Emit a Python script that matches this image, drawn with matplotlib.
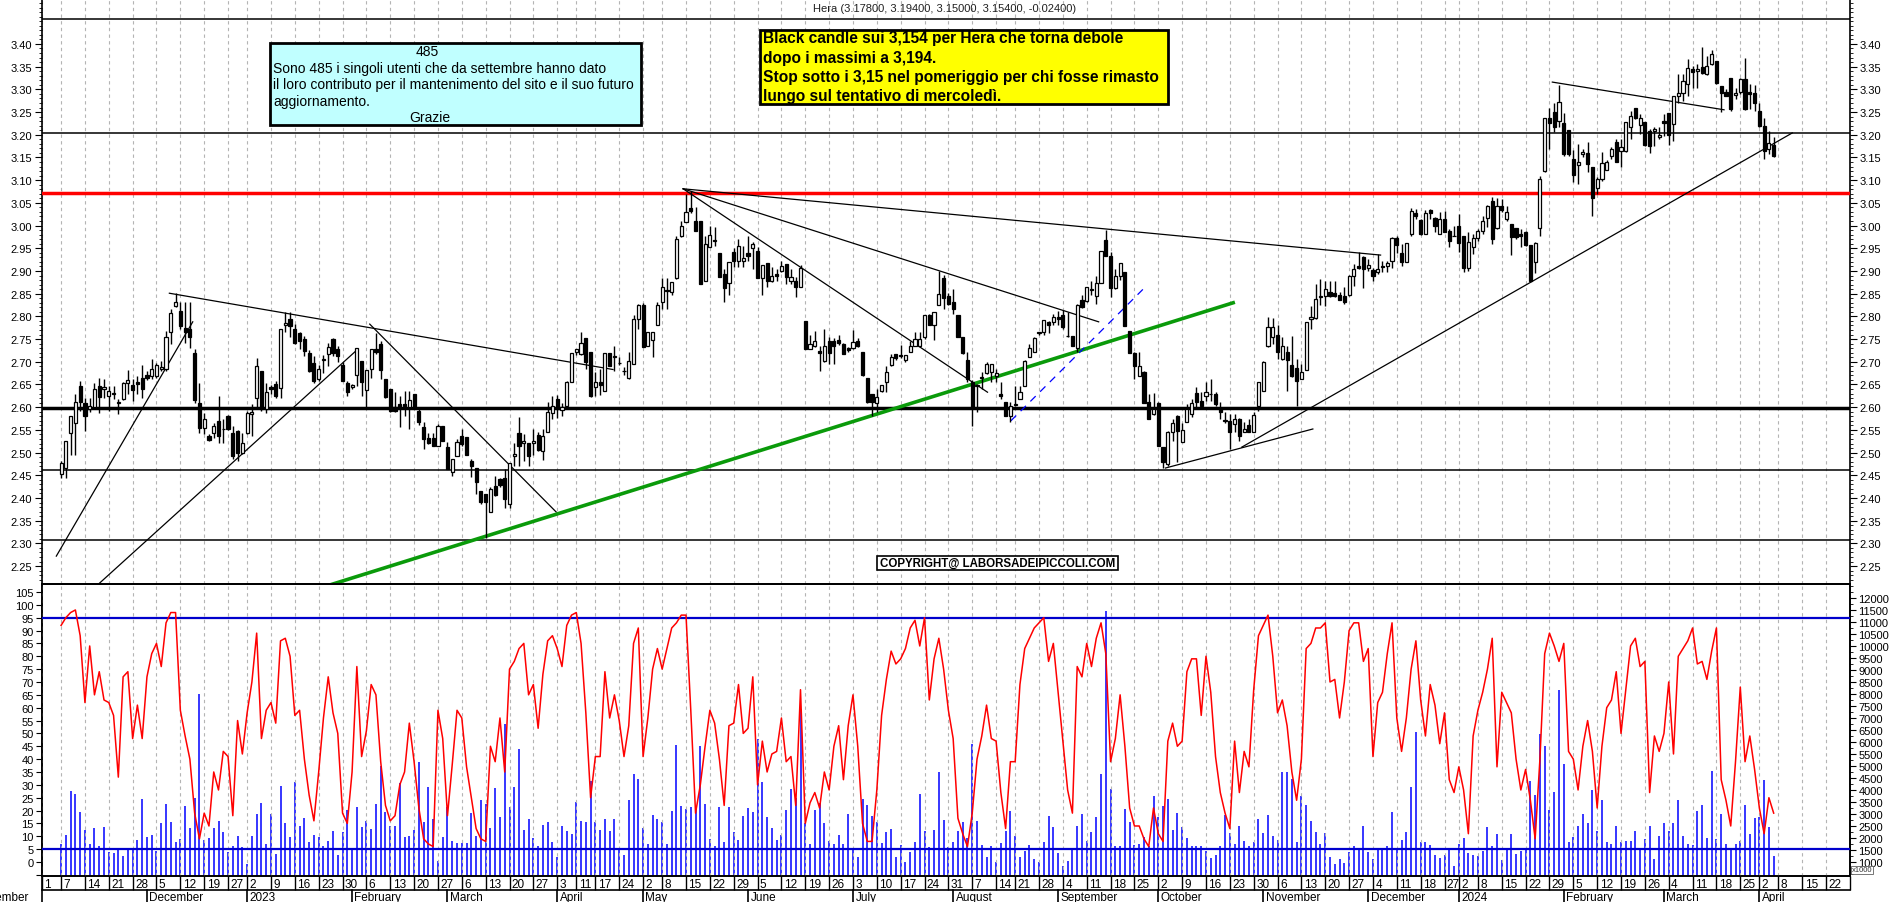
import numpy as np
import pandas as pd
import matplotlib
matplotlib.use("Agg")
import matplotlib.pyplot as plt
from matplotlib.patches import Rectangle
from matplotlib.lines import Line2D
from matplotlib.ticker import MultipleLocator, FixedLocator
from matplotlib.transforms import blended_transform_factory

plt.rcParams['font.family'] = ['Liberation Sans', 'DejaVu Sans']

W, H = 1890, 903

# Calendario di borsa (Borsa Italiana)
first_day = "2022-11-07"
holidays = ["2022-12-26", "2023-04-07", "2023-04-10", "2023-05-01", "2023-08-15",
            "2023-12-25", "2023-12-26", "2024-01-01", "2024-03-29", "2024-04-01"]
month_names = ["", "", "February", "March", "April", "May", "June", "July",
               "August", "September", "October", "November", "December"]

# Hera - candele giornaliere
opens = [
    2.452, 2.465, 2.544, 2.565, 2.646, 2.610, 2.596, 2.600, 2.647, 2.640,
    2.625, 2.632, 2.610, 2.618, 2.654, 2.649, 2.655, 2.665, 2.671, 2.669,
    2.669, 2.684, 2.684, 2.765, 2.823, 2.812, 2.775, 2.773, 2.719, 2.609,
    2.555, 2.537, 2.544, 2.570, 2.553, 2.581, 2.543, 2.548, 2.499, 2.543,
    2.585, 2.620, 2.679, 2.596, 2.645, 2.651, 2.643, 2.781, 2.795, 2.772,
    2.764, 2.750, 2.720, 2.697, 2.662, 2.704, 2.717, 2.751, 2.728, 2.693,
    2.654, 2.645, 2.670, 2.702, 2.637, 2.684, 2.728, 2.739, 2.662, 2.640,
    2.600, 2.607, 2.608, 2.600, 2.629, 2.592, 2.556, 2.533, 2.533, 2.515,
    2.558, 2.512, 2.457, 2.492, 2.536, 2.534, 2.482, 2.467, 2.415, 2.409,
    2.370, 2.427, 2.441, 2.443, 2.387, 2.492, 2.543, 2.521, 2.521, 2.522,
    2.539, 2.504, 2.545, 2.587, 2.617, 2.594, 2.603, 2.656, 2.722, 2.717,
    2.752, 2.722, 2.644, 2.656, 2.636, 2.719, 2.710, 2.698, 2.680, 2.664,
    2.695, 2.794, 2.824, 2.735, 2.747, 2.781, 2.831, 2.858, 2.853, 2.884,
    2.976, 3.007, 3.038, 3.011, 3.009, 2.879, 2.952, 2.966, 2.940, 2.893,
    2.873, 2.941, 2.921, 2.923, 2.940, 2.950, 2.943, 2.884, 2.918, 2.879,
    2.893, 2.901, 2.915, 2.879, 2.879, 2.864, 2.789, 2.729, 2.734, 2.724,
    2.702, 2.746, 2.746, 2.749, 2.739, 2.730, 2.730, 2.746, 2.721, 2.664,
    2.629, 2.609, 2.636, 2.655, 2.693, 2.717, 2.716, 2.705, 2.722, 2.735,
    2.735, 2.754, 2.802, 2.780, 2.824, 2.884, 2.844, 2.831, 2.803, 2.754,
    2.705, 2.655, 2.646, 2.664, 2.675, 2.677, 2.669, 2.629, 2.611, 2.581,
    2.604, 2.617, 2.647, 2.710, 2.721, 2.764, 2.766, 2.788, 2.788, 2.798,
    2.802, 2.757, 2.757, 2.730, 2.835, 2.834, 2.858, 2.844, 2.874, 2.969,
    2.932, 2.862, 2.888, 2.898, 2.768, 2.719, 2.668, 2.678, 2.612, 2.585,
    2.609, 2.512, 2.475, 2.546, 2.580, 2.524, 2.567, 2.585, 2.631, 2.614,
    2.625, 2.628, 2.629, 2.597, 2.570, 2.570, 2.563, 2.575, 2.545, 2.561,
    2.545, 2.603, 2.636, 2.735, 2.754, 2.758, 2.706, 2.722, 2.693, 2.686,
    2.663, 2.683, 2.795, 2.796, 2.843, 2.844, 2.853, 2.851, 2.847, 2.845,
    2.847, 2.888, 2.910, 2.930, 2.906, 2.903, 2.898, 2.912, 2.910, 2.923,
    2.972, 2.940, 2.919, 2.981, 3.027, 3.012, 2.981, 3.034, 3.016, 2.981,
    3.014, 2.989, 2.978, 2.998, 2.978, 2.906, 2.952, 2.972, 2.987, 3.016,
    3.055, 2.994, 3.044, 3.014, 3.003, 2.994, 2.981, 2.986, 2.957, 2.919,
    2.994, 3.121, 3.238, 3.251, 3.231, 3.226, 3.210, 3.147, 3.133, 3.157,
    3.160, 3.128, 3.082, 3.103, 3.123, 3.154, 3.185, 3.165, 3.165, 3.216,
    3.258, 3.221, 3.229, 3.209, 3.209, 3.194, 3.231, 3.248, 3.224, 3.285,
    3.293, 3.312, 3.345, 3.341, 3.350, 3.334, 3.356, 3.362, 3.307, 3.295,
    3.326, 3.288, 3.295, 3.323, 3.295, 3.292, 3.253, 3.220, 3.169, 3.178,
]
highs = [
    2.482, 2.526, 2.581, 2.629, 2.658, 2.621, 2.620, 2.654, 2.664, 2.662,
    2.647, 2.647, 2.618, 2.656, 2.682, 2.662, 2.669, 2.693, 2.680, 2.706,
    2.698, 2.701, 2.768, 2.817, 2.851, 2.832, 2.832, 2.831, 2.728, 2.654,
    2.588, 2.541, 2.566, 2.625, 2.573, 2.582, 2.559, 2.549, 2.544, 2.592,
    2.607, 2.709, 2.680, 2.654, 2.648, 2.658, 2.773, 2.810, 2.810, 2.783,
    2.766, 2.757, 2.727, 2.713, 2.694, 2.715, 2.742, 2.752, 2.735, 2.699,
    2.658, 2.650, 2.730, 2.702, 2.681, 2.728, 2.763, 2.746, 2.662, 2.640,
    2.633, 2.625, 2.636, 2.636, 2.630, 2.596, 2.567, 2.544, 2.544, 2.563,
    2.558, 2.523, 2.486, 2.531, 2.552, 2.534, 2.486, 2.467, 2.416, 2.409,
    2.424, 2.449, 2.445, 2.464, 2.478, 2.522, 2.578, 2.541, 2.522, 2.552,
    2.546, 2.552, 2.611, 2.625, 2.626, 2.609, 2.658, 2.719, 2.729, 2.765,
    2.752, 2.722, 2.678, 2.684, 2.719, 2.719, 2.735, 2.710, 2.688, 2.721,
    2.803, 2.827, 2.830, 2.766, 2.765, 2.831, 2.884, 2.884, 2.875, 2.976,
    3.009, 3.070, 3.077, 3.040, 3.009, 2.978, 2.999, 2.996, 2.940, 2.904,
    2.919, 2.950, 2.970, 2.956, 2.978, 2.963, 2.952, 2.913, 2.918, 2.908,
    2.905, 2.921, 2.915, 2.904, 2.886, 2.913, 2.789, 2.758, 2.768, 2.735,
    2.772, 2.754, 2.752, 2.758, 2.741, 2.732, 2.771, 2.752, 2.721, 2.664,
    2.629, 2.640, 2.649, 2.691, 2.717, 2.717, 2.737, 2.715, 2.746, 2.765,
    2.765, 2.803, 2.805, 2.809, 2.901, 2.891, 2.851, 2.860, 2.803, 2.754,
    2.721, 2.659, 2.650, 2.677, 2.700, 2.695, 2.684, 2.655, 2.612, 2.611,
    2.646, 2.647, 2.705, 2.739, 2.754, 2.766, 2.793, 2.790, 2.806, 2.812,
    2.813, 2.809, 2.757, 2.827, 2.847, 2.864, 2.879, 2.890, 2.944, 2.991,
    2.941, 2.904, 2.918, 2.898, 2.768, 2.721, 2.721, 2.680, 2.629, 2.631,
    2.612, 2.512, 2.548, 2.574, 2.583, 2.566, 2.607, 2.618, 2.644, 2.633,
    2.655, 2.661, 2.633, 2.611, 2.589, 2.585, 2.585, 2.577, 2.567, 2.574,
    2.590, 2.656, 2.702, 2.798, 2.796, 2.780, 2.754, 2.735, 2.756, 2.706,
    2.695, 2.787, 2.823, 2.871, 2.882, 2.879, 2.879, 2.879, 2.854, 2.864,
    2.891, 2.915, 2.941, 2.934, 2.926, 2.906, 2.937, 2.923, 2.923, 2.974,
    2.978, 2.959, 2.962, 3.038, 3.036, 3.014, 3.034, 3.036, 3.018, 3.029,
    3.033, 2.992, 2.999, 3.025, 2.978, 2.985, 2.981, 2.992, 3.022, 3.045,
    3.062, 3.060, 3.058, 3.044, 3.003, 2.994, 2.992, 2.989, 2.957, 2.963,
    3.110, 3.238, 3.260, 3.271, 3.310, 3.249, 3.210, 3.167, 3.180, 3.168,
    3.183, 3.128, 3.106, 3.161, 3.145, 3.172, 3.191, 3.191, 3.229, 3.253,
    3.260, 3.245, 3.229, 3.213, 3.216, 3.216, 3.246, 3.248, 3.285, 3.334,
    3.334, 3.367, 3.352, 3.356, 3.393, 3.374, 3.387, 3.362, 3.307, 3.301,
    3.326, 3.304, 3.326, 3.370, 3.312, 3.310, 3.271, 3.238, 3.209, 3.194,
]
lows = [
    2.445, 2.445, 2.494, 2.494, 2.592, 2.548, 2.590, 2.598, 2.588, 2.620,
    2.592, 2.618, 2.585, 2.616, 2.629, 2.614, 2.629, 2.621, 2.660, 2.662,
    2.665, 2.680, 2.680, 2.739, 2.820, 2.772, 2.741, 2.731, 2.610, 2.544,
    2.540, 2.526, 2.533, 2.522, 2.522, 2.550, 2.486, 2.482, 2.496, 2.541,
    2.537, 2.599, 2.592, 2.588, 2.629, 2.621, 2.621, 2.765, 2.754, 2.740,
    2.728, 2.713, 2.678, 2.654, 2.658, 2.676, 2.691, 2.713, 2.700, 2.658,
    2.625, 2.640, 2.647, 2.624, 2.600, 2.664, 2.718, 2.661, 2.620, 2.590,
    2.590, 2.556, 2.581, 2.553, 2.596, 2.561, 2.509, 2.519, 2.514, 2.515,
    2.526, 2.464, 2.449, 2.492, 2.515, 2.495, 2.446, 2.409, 2.387, 2.311,
    2.370, 2.405, 2.424, 2.379, 2.379, 2.470, 2.471, 2.482, 2.470, 2.495,
    2.504, 2.484, 2.545, 2.574, 2.576, 2.581, 2.602, 2.655, 2.714, 2.714,
    2.684, 2.622, 2.625, 2.627, 2.636, 2.691, 2.680, 2.692, 2.670, 2.661,
    2.695, 2.772, 2.732, 2.734, 2.710, 2.780, 2.816, 2.816, 2.846, 2.882,
    2.974, 3.007, 3.028, 2.987, 2.871, 2.879, 2.952, 2.954, 2.886, 2.831,
    2.846, 2.908, 2.908, 2.908, 2.923, 2.904, 2.884, 2.846, 2.864, 2.875,
    2.877, 2.897, 2.871, 2.871, 2.842, 2.864, 2.728, 2.728, 2.732, 2.680,
    2.700, 2.695, 2.695, 2.736, 2.717, 2.721, 2.728, 2.732, 2.668, 2.609,
    2.581, 2.589, 2.633, 2.634, 2.691, 2.705, 2.708, 2.699, 2.721, 2.735,
    2.732, 2.750, 2.780, 2.747, 2.824, 2.816, 2.824, 2.805, 2.754, 2.717,
    2.656, 2.559, 2.590, 2.640, 2.673, 2.655, 2.655, 2.617, 2.580, 2.568,
    2.603, 2.617, 2.646, 2.710, 2.721, 2.759, 2.759, 2.763, 2.781, 2.780,
    2.772, 2.755, 2.734, 2.722, 2.818, 2.832, 2.846, 2.827, 2.874, 2.932,
    2.842, 2.860, 2.881, 2.778, 2.719, 2.661, 2.668, 2.609, 2.574, 2.583,
    2.514, 2.465, 2.471, 2.526, 2.480, 2.524, 2.567, 2.578, 2.600, 2.596,
    2.614, 2.614, 2.603, 2.575, 2.565, 2.508, 2.545, 2.526, 2.545, 2.545,
    2.545, 2.592, 2.636, 2.732, 2.739, 2.706, 2.705, 2.636, 2.666, 2.602,
    2.662, 2.683, 2.772, 2.795, 2.825, 2.822, 2.842, 2.842, 2.835, 2.827,
    2.844, 2.868, 2.905, 2.862, 2.901, 2.879, 2.893, 2.897, 2.897, 2.906,
    2.940, 2.912, 2.919, 2.976, 3.014, 2.979, 2.981, 3.014, 2.985, 2.981,
    2.985, 2.952, 2.976, 2.941, 2.897, 2.901, 2.937, 2.965, 2.981, 2.996,
    2.959, 2.992, 3.029, 3.011, 2.935, 2.970, 2.952, 2.956, 2.876, 2.895,
    2.976, 3.119, 3.169, 3.205, 3.218, 3.154, 3.154, 3.097, 3.091, 3.150,
    3.119, 3.022, 3.069, 3.099, 3.123, 3.147, 3.139, 3.128, 3.161, 3.191,
    3.235, 3.202, 3.176, 3.160, 3.176, 3.191, 3.198, 3.177, 3.187, 3.271,
    3.275, 3.285, 3.304, 3.304, 3.334, 3.332, 3.354, 3.312, 3.251, 3.285,
    3.253, 3.279, 3.290, 3.255, 3.257, 3.253, 3.218, 3.147, 3.158, 3.150,
]
closes = [
    2.478, 2.526, 2.581, 2.612, 2.612, 2.581, 2.602, 2.640, 2.623, 2.644,
    2.635, 2.630, 2.611, 2.654, 2.660, 2.638, 2.652, 2.641, 2.665, 2.684,
    2.693, 2.689, 2.754, 2.807, 2.832, 2.779, 2.766, 2.754, 2.616, 2.555,
    2.574, 2.528, 2.558, 2.537, 2.552, 2.553, 2.493, 2.500, 2.522, 2.588,
    2.590, 2.691, 2.597, 2.634, 2.641, 2.625, 2.773, 2.785, 2.778, 2.741,
    2.746, 2.724, 2.680, 2.658, 2.685, 2.705, 2.732, 2.719, 2.713, 2.658,
    2.634, 2.648, 2.730, 2.655, 2.681, 2.728, 2.721, 2.683, 2.622, 2.591,
    2.591, 2.600, 2.603, 2.616, 2.600, 2.567, 2.530, 2.521, 2.515, 2.559,
    2.526, 2.464, 2.486, 2.524, 2.519, 2.495, 2.470, 2.435, 2.391, 2.391,
    2.420, 2.407, 2.429, 2.398, 2.476, 2.497, 2.515, 2.525, 2.493, 2.525,
    2.506, 2.537, 2.589, 2.603, 2.596, 2.600, 2.655, 2.719, 2.729, 2.741,
    2.699, 2.625, 2.655, 2.649, 2.719, 2.691, 2.712, 2.697, 2.679, 2.702,
    2.794, 2.826, 2.732, 2.766, 2.765, 2.824, 2.864, 2.857, 2.875, 2.970,
    2.998, 3.029, 3.031, 2.987, 2.871, 2.959, 2.979, 2.967, 2.886, 2.862,
    2.919, 2.921, 2.954, 2.928, 2.932, 2.959, 2.884, 2.913, 2.879, 2.888,
    2.888, 2.912, 2.886, 2.886, 2.864, 2.906, 2.728, 2.739, 2.746, 2.719,
    2.734, 2.719, 2.734, 2.741, 2.717, 2.726, 2.744, 2.734, 2.670, 2.611,
    2.611, 2.622, 2.649, 2.678, 2.710, 2.708, 2.712, 2.715, 2.735, 2.751,
    2.750, 2.802, 2.780, 2.809, 2.849, 2.840, 2.827, 2.816, 2.754, 2.719,
    2.661, 2.600, 2.648, 2.667, 2.695, 2.695, 2.675, 2.625, 2.581, 2.603,
    2.607, 2.634, 2.702, 2.730, 2.752, 2.765, 2.793, 2.781, 2.798, 2.794,
    2.776, 2.756, 2.734, 2.824, 2.820, 2.864, 2.861, 2.874, 2.943, 2.932,
    2.862, 2.888, 2.918, 2.778, 2.719, 2.690, 2.691, 2.609, 2.574, 2.595,
    2.514, 2.479, 2.546, 2.565, 2.548, 2.550, 2.596, 2.609, 2.611, 2.603,
    2.634, 2.630, 2.607, 2.590, 2.571, 2.546, 2.574, 2.536, 2.552, 2.545,
    2.583, 2.656, 2.699, 2.776, 2.776, 2.722, 2.735, 2.705, 2.668, 2.658,
    2.677, 2.787, 2.798, 2.838, 2.845, 2.860, 2.844, 2.845, 2.837, 2.832,
    2.888, 2.904, 2.906, 2.904, 2.913, 2.888, 2.904, 2.908, 2.918, 2.972,
    2.957, 2.919, 2.961, 3.033, 3.020, 2.981, 3.027, 3.028, 2.998, 3.014,
    2.986, 2.967, 2.977, 2.962, 2.906, 2.963, 2.972, 2.987, 3.009, 3.044,
    2.970, 3.044, 3.035, 3.030, 2.974, 2.974, 2.978, 2.957, 2.879, 2.961,
    3.102, 3.238, 3.227, 3.216, 3.273, 3.158, 3.158, 3.111, 3.141, 3.161,
    3.136, 3.060, 3.103, 3.138, 3.141, 3.169, 3.141, 3.172, 3.229, 3.242,
    3.236, 3.236, 3.177, 3.176, 3.213, 3.199, 3.226, 3.199, 3.285, 3.293,
    3.319, 3.348, 3.339, 3.344, 3.337, 3.351, 3.378, 3.314, 3.292, 3.286,
    3.257, 3.292, 3.323, 3.257, 3.290, 3.270, 3.220, 3.165, 3.182, 3.154,
]

# Oscillatore (linea rossa, scala sinistra)
oscillator = [
    92, 95, 97, 98, 88, 62, 84, 65, 74, 63,
    62, 57, 33, 72, 74, 48, 61, 48, 72, 81,
    85, 76, 93, 97, 97, 59, 49, 40, 19, 9,
    19, 14, 35, 28, 43, 41, 18, 55, 42, 58,
    70, 89, 48, 59, 62, 54, 86, 87, 80, 57,
    59, 40, 26, 16, 35, 56, 72, 58, 50, 19,
    15, 35, 76, 41, 51, 69, 65, 39, 22, 16,
    18, 30, 35, 54, 39, 21, 9, 7, 6, 59,
    48, 18, 38, 59, 56, 37, 25, 13, 9, 8,
    45, 39, 56, 35, 75, 78, 83, 85, 65, 69,
    52, 73, 86, 88, 83, 76, 92, 96, 97, 85,
    58, 25, 41, 41, 74, 56, 65, 55, 41, 53,
    85, 91, 41, 56, 75, 83, 75, 83, 91, 93,
    96, 96, 59, 19, 30, 45, 59, 54, 40, 22,
    53, 54, 69, 50, 52, 72, 30, 47, 35, 42,
    43, 56, 39, 41, 22, 67, 15, 23, 27, 21,
    35, 28, 45, 53, 32, 53, 65, 45, 15, 8,
    8, 28, 57, 71, 82, 77, 79, 83, 91, 94,
    84, 95, 63, 79, 87, 75, 59, 48, 17, 11,
    6, 19, 40, 49, 61, 48, 47, 27, 13, 39,
    39, 69, 83, 87, 91, 93, 95, 78, 85, 66,
    47, 28, 19, 76, 72, 85, 76, 87, 93, 81,
    39, 48, 65, 45, 21, 14, 14, 9, 6, 21,
    11, 8, 47, 54, 45, 47, 74, 79, 79, 57,
    80, 66, 41, 27, 19, 13, 47, 27, 43, 37,
    67, 88, 92, 96, 80, 58, 63, 53, 35, 24,
    40, 83, 85, 91, 91, 93, 70, 71, 56, 70,
    90, 93, 93, 78, 83, 41, 62, 66, 81, 93,
    56, 43, 56, 75, 86, 63, 49, 69, 61, 46,
    58, 32, 27, 37, 28, 11, 49, 59, 66, 75,
    87, 37, 66, 62, 58, 40, 28, 36, 24, 9,
    40, 81, 89, 84, 78, 85, 43, 40, 28, 45,
    55, 43, 21, 45, 60, 63, 74, 50, 67, 84,
    87, 76, 78, 27, 49, 43, 50, 70, 42, 80,
    83, 86, 91, 77, 78, 71, 82, 91, 32, 24,
    14, 39, 68, 39, 49, 36, 21, 11, 25, 19,
]

# Volumi (x1000, scala destra)
volume = [
    1750, 2125, 3975, 3835, 3070, 2350, 1750, 2400, 1680, 2445,
    1400, 1375, 1540, 1265, 1515, 1570, 1915, 3625, 2055, 2125,
    1470, 2610, 3420, 2655, 1850, 1960, 3350, 2400, 3655, 8000,
    1915, 1985, 2400, 2725, 2235, 1400, 1680, 2070, 1610, 915,
    2100, 3000, 3445, 1750, 3000, 1335, 4180, 2625, 2055, 4320,
    2515, 2820, 1820, 2125, 2040, 1655, 1890, 2305, 1290, 2235,
    3180, 1485, 3280, 2445, 2725, 2375, 3420, 5015, 3070, 2515,
    2515, 4290, 2030, 2100, 2335, 5155, 2655, 4110, 2790, 1055,
    2030, 3280, 1890, 1790, 1790, 1790, 3040, 2100, 3600, 3420,
    2400, 4070, 2860, 6750, 3280, 4125, 5710, 2350, 2790, 1985,
    1665, 2555, 2655, 1850, 1220, 2485, 2305, 2165, 3500, 2695,
    2655, 4390, 2655, 2350, 2790, 2305, 2790, 1500, 1290, 3585,
    4670, 4460, 2430, 1750, 2960, 2790, 2655, 1750, 3140, 5875,
    3350, 3210, 3280, 3280, 5850, 3420, 1960, 1680, 3280, 1850,
    3280, 2265, 1930, 2930, 3265, 3100, 6125, 4350, 2860, 2430,
    1930, 2140, 3180, 4040, 3655, 7375, 2625, 1750, 3180, 3460,
    2625, 1890, 1750, 2125, 1750, 3000, 1570, 1220, 3625, 3375,
    2930, 2665, 1790, 2235, 2375, 1195, 1710, 1015, 1400, 1850,
    3835, 2305, 1610, 2335, 4765, 2765, 1610, 1850, 2305, 2655,
    1985, 5905, 2725, 1710, 1220, 1655, 1015, 1790, 2305, 3140,
    2100, 1220, 1460, 1710, 1125, 1015, 1820, 2930, 2445, 1375,
    850, 1055, 1515, 2515, 3000, 1890, 2265, 2860, 4670, 11475,
    4040, 1655, 1655, 3210, 2655, 1710, 1750, 2030, 1680, 3765,
    2890, 3320, 3625, 2350, 3040, 2445, 1985, 1680, 1680, 1655,
    1470, 1150, 1290, 1680, 2960, 2210, 1750, 2485, 1890, 1680,
    1850, 2790, 2210, 2960, 2100, 1930, 4740, 4740, 4460, 1820,
    3765, 3375, 2725, 2235, 1750, 2210, 1195, 915, 1125, 960,
    1400, 1655, 1515, 2515, 1400, 1125, 1570, 1540, 1680, 3070,
    1570, 1915, 2235, 4110, 6405, 1820, 1850, 1710, 1290, 1150,
    1305, 1570, 850, 1750, 1985, 1375, 1290, 1265, 1445, 2445,
    1655, 2155, 1100, 1570, 2155, 1335, 1445, 1570, 4375, 3790,
    6335, 5820, 3165, 3905, 8165, 5085, 1850, 2040, 2500, 2985,
    2625, 4015, 2290, 3585, 1820, 1750, 2500, 1820, 1860, 1890,
    2290, 1540, 1960, 2500, 1125, 2100, 2610, 2290, 2610, 3585,
    2085, 1750, 1710, 3110, 3375, 2000, 4790, 1960, 3000, 1750,
    1500, 1750, 1890, 3375, 2165, 2835, 2890, 4415, 2470, 1265,
]

# Livelli orizzontali e trendline (giorno, prezzo) -> (giorno, prezzo)
levels_thin = [3.455, 3.204, 2.462, 2.307]
level_red = 3.072
level_thick = 2.598
trendlines = [
    (22.7, 2.851, 115.7, 2.683),
    (-1.0, 2.272, 27.6, 2.788),
    (7.8, 2.210, 61.6, 2.722),
    (64.7, 2.783, 103.8, 2.369),
    (130.4, 3.081, 194.2, 2.633),
    (130.4, 3.081, 217.5, 2.788),
    (130.4, 3.081, 276.6, 2.935),
    (231.5, 2.466, 262.4, 2.552),
    (247.5, 2.512, 362.9, 3.204),
    (312.6, 3.316, 348.6, 3.255),
]
green_line = (56.8, 2.210, 245.7, 2.830)
blue_dashed = (199.1, 2.570, 227.3, 2.865)
osc_bands = [95, 5]

title = "Hera (3.17800, 3.19400, 3.15000, 3.15400, -0.02400)"
note_cyan = ["Sono 485 i singoli utenti che da settembre hanno dato",
             "il loro contributo per il mantenimento del sito e il suo futuro",
             "aggiornamento."]
note_yellow = ["Black candle sui 3,154 per Hera che torna debole",
               "dopo i massimi a 3,194.",
               "Stop sotto i 3,15 nel pomeriggio per chi fosse rimasto",
               "lungo sul tentativo di mercoledì."]


def fx(px):
    return px / W


def fy(py):
    return 1 - py / H


# calendario: indice 0 = primo giorno del grafico
cal = pd.bdate_range("2022-11-01", "2024-04-30")
cal = cal[~cal.isin(pd.to_datetime(holidays))]
pos = np.arange(len(cal)) - cal.get_loc(pd.Timestamp(first_day))
iso = cal.isocalendar()
wk = (iso.year * 100 + iso.week).to_numpy()
week_start = np.r_[True, wk[1:] != wk[:-1]]
mk = cal.year * 12 + cal.month
month_start = np.r_[True, mk[1:] != mk[:-1]]

fig = plt.figure(figsize=(W / 100, H / 100), dpi=100)
L, R = 42, 1850
ax = fig.add_axes([fx(L), fy(585), fx(R - L), 585 / H])
ax2 = fig.add_axes([fx(L), fy(877), fx(R - L), (877 - 585) / H])
axv = ax2.twinx()

x0, x1 = -0.62, 371.7
days = np.arange(len(closes))
o, h, l, c = (np.array(v) for v in (opens, highs, lows, closes))
up = c >= o

# --- pannello prezzi ---
ax.vlines(days, l, h, color='black', lw=1, zorder=4)
ax.bar(days[up], np.maximum((c - o)[up], 0.002), bottom=o[up], width=0.66,
       color='white', edgecolor='black', lw=0.9, zorder=5)
ax.bar(days[~up], (o - c)[~up], bottom=c[~up], width=0.66,
       color='black', edgecolor='black', lw=0.9, zorder=5)

for y in levels_thin:
    ax.axhline(y, color='black', lw=1.1, zorder=3)
ax.axhline(level_red, color='#ff0000', lw=2.5, zorder=3)
ax.axhline(level_thick, color='black', lw=2.5, zorder=3)
for xa, ya, xb, yb in trendlines:
    ax.plot([xa, xb], [ya, yb], color='black', lw=0.9, zorder=3)
ax.plot(green_line[::2], green_line[1::2], color='#0a9a0a', lw=2.6, zorder=3)
ax.plot(blue_dashed[::2], blue_dashed[1::2], color='#0000ff', lw=0.9,
        ls=(0, (6, 5)), zorder=3)

ax.set_xlim(x0, x1)
ax.set_ylim(2.2106, 3.499)
ax.set_yticks(np.arange(2.25, 3.4001, 0.05))
ax.yaxis.set_minor_locator(MultipleLocator(0.01))
ax.yaxis.set_major_formatter(plt.FormatStrFormatter('%.2f'))
ax.tick_params(axis='y', which='both', left=True, right=True, labelleft=True,
               labelright=True, direction='out', labelsize=8, pad=2)
ax.tick_params(axis='y', which='major', length=5)
ax.tick_params(axis='y', which='minor', length=2.5)
ax.set_xticks(pos[week_start])
ax.tick_params(axis='x', length=0, labelbottom=False)
ax.grid(axis='x', color='#b4b4b4', ls=(0, (3, 3)), lw=0.8)
ax.spines['top'].set_visible(False)
for s in ('left', 'right', 'bottom'):
    ax.spines[s].set_linewidth(1.2)

# --- pannello oscillatore + volumi ---
axv.vlines(days, 0, volume, color='#0000ff', lw=1.1)
axv.set_ylim(417, 12583)
axv.set_yticks(np.arange(1000, 12001, 500))
axv.yaxis.set_minor_locator(MultipleLocator(250))
axv.tick_params(axis='y', which='both', direction='out', labelsize=8, pad=2)
axv.tick_params(axis='y', which='major', length=4)
axv.tick_params(axis='y', which='minor', length=2)

ax2.set_zorder(axv.get_zorder() + 1)
ax2.patch.set_visible(False)
ax2.plot(days, oscillator, color='#ff0000', lw=1.1, zorder=4)
for b in osc_bands:
    ax2.axhline(b, color='#0000cc', lw=1.6, zorder=3)
ax2.set_xlim(x0, x1)
ax2.set_ylim(-5.45, 108.1)
osc_ticks = np.arange(-5, 106, 5)
ax2.yaxis.set_major_locator(FixedLocator(osc_ticks))
ax2.set_yticklabels(['' if t < 0 else str(t) for t in osc_ticks])
ax2.tick_params(axis='y', direction='out', length=4, labelsize=8, pad=2)
ax2.set_xticks(pos[week_start])
ax2.tick_params(axis='x', direction='out', length=10, width=1, labelbottom=False)
ax2.grid(axis='x', color='#b4b4b4', ls=(0, (3, 3)), lw=0.8)
for a in (ax2, axv):
    for s in a.spines.values():
        s.set_linewidth(1.2)

# --- asse date ---
clip = Rectangle((fx(L), 0), fx(R - L), 1, transform=fig.transFigure)
tb = blended_transform_factory(ax2.transData, fig.transFigure)
for p, d in zip(pos[week_start], cal[week_start]):
    t = ax2.text(p + 0.5, fy(885), str(d.day), transform=tb, ha='left',
                 va='center', fontsize=8.5, clip_on=True)
    t.set_clip_path(clip)
fig.add_artist(Line2D([fx(L), fx(R)], [fy(891), fy(891)], color='black', lw=1.2))
fig.add_artist(Line2D([fx(L), fx(L)], [fy(877), fy(903)], color='black', lw=1.2))
for p, d in zip(pos[month_start], cal[month_start]):
    name = str(d.year) if d.month == 1 else month_names[d.month]
    if p < x0:
        fig.text(fx(L - 14), fy(898), "November", ha='right', va='center', fontsize=8.5)
        continue
    fig.add_artist(Line2D([p, p], [fy(891), fy(903)], transform=tb, color='black', lw=1.2))
    ax2.text(p + 0.5, fy(898), name, transform=tb, ha='left', va='center',
             fontsize=8.5, clip_on=False)

# --- testi ---
fig.text(fx(945), fy(9), title, ha='center', va='center', fontsize=8, color='#202020')

fig.add_artist(Rectangle((fx(270), fy(126)), fx(371), 82 / H, transform=fig.transFigure,
                         facecolor='#c0ffff', edgecolor='black', lw=2, zorder=10))
fig.text(fx(427), fy(52), "485", ha='center', va='center', fontsize=10, zorder=11)
for k, line in enumerate(note_cyan):
    fig.text(fx(273), fy(69 + 16.5 * k), line, ha='left', va='center',
             fontsize=10, zorder=11)
fig.text(fx(430), fy(118), "Grazie", ha='center', va='center', fontsize=10, zorder=11)

fig.add_artist(Rectangle((fx(760), fy(105)), fx(408), 74 / H, transform=fig.transFigure,
                         facecolor='#ffff00', edgecolor='black', lw=2, zorder=10))
for k, line in enumerate(note_yellow):
    fig.text(fx(763), fy(39 + 19.3 * k), line, ha='left', va='center',
             fontsize=11.2, fontweight='bold', zorder=11)

fig.add_artist(Rectangle((fx(877), fy(571)), fx(241), 14 / H, transform=fig.transFigure,
                         facecolor='white', edgecolor='black', lw=1.2, zorder=10))
fig.text(fx(997.5), fy(564), "COPYRIGHT@ LABORSADEIPICCOLI.COM", ha='center', va='center',
         fontsize=8.3, fontweight='bold', zorder=11)

fig.add_artist(Rectangle((fx(1851), fy(875)), fx(22), 8 / H, transform=fig.transFigure,
                         facecolor='white', edgecolor='#606060', lw=0.6, zorder=10))
fig.text(fx(1862), fy(871), "x1000", ha='center', va='center', fontsize=5.5,
         color='#303030', zorder=11)

fig.savefig("out.png", dpi=100)
